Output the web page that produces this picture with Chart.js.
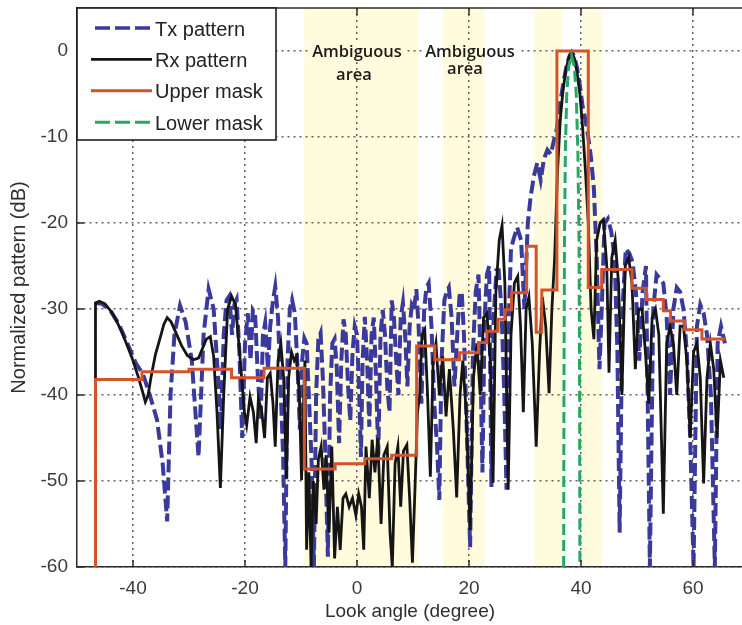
<!DOCTYPE html>
<html>
<head>
<meta charset="utf-8">
<script src="https://cdn.jsdelivr.net/npm/chart.js@4.4.0/dist/chart.umd.min.js"></script>
<style>
  html, body { margin: 0; padding: 0; background: #fff; overflow: hidden; }
  #wrap { width: 742px; height: 625px; overflow: hidden; }
</style>
</head>
<body>
<div id="wrap"><canvas id="chart" width="749" height="625"></canvas></div>
<script>
// --- axis ticks ---
const xTicks = [-40, -20, 0, 20, 40, 60];
const yTicks = [-60, -50, -40, -30, -20, -10, 0];

// --- shaded "ambiguous" look-angle bands (degree) ---
const ambigStart = [-9.4, 15.4, 31.7, 40.2];
const ambigEnd = [10.9, 22.8, 36.6, 43.7];

// --- Tx pattern (dB) ---
const txX = [
  -46.7, -45.5, -44.0, -42.5, -41.0, -39.5, -38.2, -37.0, -35.7, -34.7,
  -33.9, -33.3, -32.6, -31.6, -30.6, -29.5, -28.3, -27.4, -26.5, -25.6,
  -24.8, -24.3, -23.8, -23.3, -22.8, -22.3, -21.9, -21.5, -21.0, -20.5,
  -20.0, -19.5, -19.0, -18.6, -18.2, -17.7, -17.2, -16.8, -16.4, -15.9,
  -15.5, -15.0, -14.6, -14.1, -13.6, -13.2, -12.8, -12.4, -12.0, -11.6,
  -11.1, -10.6, -10.2, -9.8, -9.4, -9.0, -8.6, -8.1, -7.7, -7.3,
  -6.9, -6.5, -6.1, -5.7, -5.2, -4.8, -4.4, -4.0, -3.6, -3.2,
  -2.8, -2.4, -2.0, -1.6, -1.2, -0.8, -0.4, 0.0, 0.4, 0.7,
  1.0, 1.4, 1.8, 2.2, 2.6, 3.0, 3.4, 3.8, 4.2, 4.6,
  5.0, 5.4, 5.8, 6.2, 6.6, 7.0, 7.4, 7.8, 8.2, 8.6,
  9.0, 9.4, 9.8, 10.2, 10.6, 11.0, 11.5, 12.0, 12.4, 12.8,
  13.3, 13.8, 14.3, 14.7, 15.1, 15.6, 16.0, 16.4, 16.9, 17.4,
  17.9, 18.3, 18.7, 19.1, 19.6, 20.2, 20.7, 21.2, 21.7, 22.0,
  22.4, 22.8, 23.2, 23.6, 24.0, 24.4, 24.9, 25.3, 25.8, 26.3,
  26.7, 27.1, 27.5, 27.9, 28.6, 29.3, 29.9, 30.5, 31.0, 31.6,
  32.2, 32.8, 33.4, 34.0, 34.6, 35.2, 35.7, 36.3, 36.9, 37.5,
  38.0, 38.4, 38.8, 39.3, 39.8, 40.3, 40.8, 41.3, 41.8, 42.3,
  42.8, 43.3, 43.7, 44.2, 44.8, 45.4, 46.0, 46.5, 46.9, 47.4,
  48.0, 48.6, 49.2, 49.8, 50.4, 51.0, 51.6, 52.3, 52.9, 53.5,
  54.1, 54.7, 55.3, 55.9, 56.5, 57.1, 57.7, 58.3, 58.9, 59.5,
  60.1, 60.7, 61.3, 61.9, 62.5, 63.2, 63.9, 64.4, 65.0, 65.7
];
const txY = [
  -29.3, -29.4, -30.2, -31.8, -34.0, -36.3, -37.6, -40.0, -42.9, -48.0,
  -54.7, -40.0, -33.0, -29.6, -31.5, -36.0, -47.2, -33.0, -27.7, -30.0,
  -38.0, -44.0, -33.0, -29.0, -28.5, -33.0, -29.5, -28.9, -35.0, -45.0,
  -34.0, -30.5, -36.0, -30.1, -30.5, -38.0, -43.0, -33.0, -31.6, -37.0,
  -32.0, -29.0, -27.4, -31.0, -40.0, -47.0, -60.0, -36.0, -30.0, -28.9,
  -30.5, -37.0, -44.0, -36.0, -33.4, -34.0, -40.0, -48.0, -60.0, -40.0,
  -33.5, -32.8, -38.0, -46.0, -58.8, -40.0, -34.0, -33.5, -37.0, -45.6,
  -36.0, -31.2, -33.0, -39.0, -43.0, -35.0, -32.0, -33.0, -40.0, -47.2,
  -36.0, -30.9, -36.0, -43.7, -33.0, -31.0, -38.0, -47.0, -33.0, -30.1,
  -33.0, -39.0, -42.0, -29.0, -31.0, -36.0, -40.0, -31.0, -29.3, -33.0,
  -39.0, -32.0, -29.5, -30.0, -27.7, -32.0, -41.0, -30.0, -27.5, -27.0,
  -32.0, -41.0, -46.0, -52.2, -36.0, -29.0, -28.0, -27.5, -31.0, -39.0,
  -33.0, -28.5, -28.0, -33.0, -44.0, -57.7, -35.0, -28.0, -26.0, -35.0,
  -49.0, -31.0, -26.0, -25.0, -50.7, -31.0, -25.5, -25.5, -30.0, -40.0,
  -51.0, -31.0, -23.0, -22.0, -20.5, -22.0, -30.0, -20.0, -17.0, -14.5,
  -13.0, -15.0, -12.5, -11.5, -12.0, -10.3, -9.0, -6.0, -3.5, -1.5,
  -0.5, -0.2, -0.6, -2.0, -4.0, -6.5, -8.0, -10.0, -12.5, -16.0,
  -24.0, -37.0, -30.0, -20.0, -19.5, -21.0, -24.0, -35.0, -56.0, -30.0,
  -23.0, -23.5, -24.5, -28.0, -36.0, -28.0, -25.0, -60.0, -30.0, -26.0,
  -26.5, -27.0, -31.0, -40.0, -30.0, -27.5, -28.0, -30.0, -35.0, -45.0,
  -60.0, -32.0, -29.5, -30.5, -33.0, -40.0, -60.0, -34.0, -32.0, -34.0
];

// --- Rx pattern (dB) ---
const rxX = [
  -46.7, -46.7, -46.0, -45.0, -44.0, -43.0, -42.0, -41.0, -40.0, -39.0,
  -38.3, -37.8, -37.3, -36.8, -36.0, -35.0, -34.5, -33.9, -33.2, -32.3,
  -31.3, -30.3, -29.2, -28.3, -27.6, -26.9, -26.2, -25.6, -25.0, -24.4,
  -23.8, -23.1, -22.4, -21.7, -21.1, -20.6, -20.1, -19.7, -19.1, -18.5,
  -18.0, -17.6, -17.0, -16.5, -16.0, -15.5, -15.0, -14.6, -14.1, -13.6,
  -13.1, -12.6, -12.2, -11.7, -11.2, -10.8, -10.3, -9.9, -9.6, -9.3,
  -9.0, -8.6, -8.2, -7.8, -7.3, -6.9, -6.4, -5.9, -5.5, -5.0,
  -4.5, -4.0, -3.5, -3.0, -2.5, -2.0, -1.4, -0.8, -0.2, 0.3,
  0.8, 1.2, 1.6, 2.2, 2.7, 3.2, 3.7, 4.3, 4.8, 5.4,
  5.9, 6.3, 6.8, 7.3, 7.8, 8.3, 8.9, 9.4, 9.9, 10.4,
  10.8, 11.2, 11.6, 12.1, 12.6, 13.1, 13.6, 14.1, 14.7, 15.3,
  15.9, 16.5, 17.2, 17.8, 18.4, 18.9, 19.5, 20.2, 20.8, 21.4,
  22.0, 22.6, 23.2, 23.8, 24.3, 24.8, 25.4, 25.9, 26.4, 27.0,
  27.5, 28.1, 28.7, 29.2, 29.7, 30.2, 30.7, 31.3, 32.0, 32.6,
  33.1, 33.7, 34.3, 34.8, 35.3, 35.8, 36.3, 36.8, 37.3, 37.8,
  38.3, 38.8, 39.3, 39.8, 40.3, 40.8, 41.3, 41.8, 42.3, 42.8,
  43.4, 44.0, 44.6, 45.0, 45.5, 46.1, 46.7, 47.3, 47.9, 48.5,
  49.1, 49.7, 50.3, 50.9, 51.5, 52.1, 52.7, 53.3, 53.9, 54.7,
  55.3, 55.9, 56.5, 57.1, 57.7, 58.3, 58.9, 59.5, 60.1, 60.7,
  61.3, 61.9, 62.5, 63.1, 63.7, 64.3, 64.9, 65.5
];
const rxY = [
  -60.0, -29.3, -29.1, -29.4, -30.2, -31.3, -32.7, -34.3, -36.0, -38.0,
  -39.6, -40.8, -40.0, -38.0, -35.3, -33.0, -31.8, -31.0, -31.5, -32.8,
  -34.3, -35.4, -35.9, -35.7, -34.6, -33.5, -33.2, -35.5, -42.0, -50.8,
  -40.0, -30.0, -28.5, -29.5, -34.0, -38.0, -42.0, -43.5, -40.2, -42.0,
  -45.6, -40.4, -42.0, -45.0, -38.0, -37.5, -41.0, -46.0, -36.0, -34.0,
  -38.0, -49.7, -38.0, -35.0, -36.0, -35.5, -40.0, -49.9, -42.0, -36.0,
  -58.0, -49.0, -60.0, -50.0, -55.0, -47.5, -46.0, -51.0, -47.0, -56.0,
  -46.0, -59.0, -53.0, -58.0, -52.0, -51.5, -53.0, -52.0, -54.0, -51.5,
  -53.0, -58.0, -46.0, -52.0, -45.2, -49.0, -45.0, -55.0, -47.0, -46.0,
  -56.0, -60.0, -48.0, -46.0, -53.0, -46.5, -45.8, -52.0, -59.5, -50.0,
  -42.0, -40.0, -33.0, -32.4, -40.0, -49.5, -36.0, -34.0, -40.0, -35.5,
  -42.5, -37.0, -44.0, -51.9, -40.0, -36.0, -42.0, -55.7, -38.0, -34.0,
  -40.0, -31.0, -30.5, -36.0, -50.2, -28.0, -22.0, -20.3, -27.0, -51.0,
  -33.0, -27.0, -26.2, -32.0, -42.0, -30.0, -28.6, -34.0, -46.0, -35.0,
  -28.6, -32.0, -39.8, -30.0, -24.0, -14.0, -8.0, -4.5, -2.2, -0.8,
  -0.1, -0.8, -2.5, -5.0, -9.0, -14.0, -20.0, -30.0, -33.5, -22.0,
  -20.0, -19.6, -25.0, -37.4, -24.0, -22.0, -27.0, -40.0, -25.0, -24.0,
  -27.0, -37.0, -30.0, -30.0, -35.0, -41.0, -31.0, -30.0, -33.0, -53.8,
  -34.0, -32.0, -34.0, -40.0, -32.0, -32.0, -36.0, -45.0, -35.0, -34.0,
  -38.0, -50.3, -38.0, -34.0, -37.0, -45.0, -36.0, -38.0
];

// --- upper mask: step edges and the level that starts at each edge ---
const umX = [-46.7, -46.7, -38.4, -30, -22.4, -16.6, -9.4, -3.9, 1.4, 6.2,
  10.65, 13.9, 18.3, 21.7, 23.2, 25.2, 26.4, 27.6, 30.3, 32,
  33, 35.7, 41.3, 43.7, 49.1, 51.7, 54.7, 56, 58.5, 61.6, 65.7];
const umY = [-60, -38.2, -37.3, -37.0, -38.0, -36.9, -48.6, -48.0, -47.4, -47.0,
  -34.3, -35.9, -35.1, -33.9, -32.6, -31.2, -30.1, -28.1, -22.7, -32.7,
  -27.8, 0, -27.5, -25.4, -27.6, -28.9, -30.2, -31.4, -32.4, -33.5, -33.5];

// --- lower mask ---
const lmX = [36.9, 36.95, 37.05, 37.2, 37.45, 37.8, 38.3, 38.8, 39.15, 39.45, 39.65, 39.75, 39.8];
const lmY = [-60, -40, -22, -12, -5, -1.8, -0.5, -1.8, -5, -12, -22, -40, -60];

const FONT = "'Liberation Sans', Arial, sans-serif";
const BAND = '#fffbdc';
const pairs = (xs, ys) => xs.map((v, i) => ({ x: v, y: ys[i] }));

// yellow bands go under the grid
const backdrop = {
  id: 'backdrop',
  beforeDraw(chart) {
    const { ctx, chartArea: a, scales: { x } } = chart;
    ctx.save();
    ctx.fillStyle = BAND;
    ambigStart.forEach((s, i) => {
      const l = x.getPixelForValue(s);
      const r = x.getPixelForValue(ambigEnd[i]);
      ctx.fillRect(l, a.top, r - l, a.bottom - a.top);
    });
    ctx.restore();
  }
};

// box edge, inward ticks, legend, notes and axis titles
const overlay = {
  id: 'overlay',
  afterDraw(chart) {
    const { ctx, chartArea: a, scales: { x, y } } = chart;
    ctx.save();
    ctx.strokeStyle = '#2b2b2b';
    ctx.lineWidth = 1.5;
    ctx.beginPath();
    ctx.moveTo(a.left, a.top);
    ctx.lineTo(a.right, a.top);
    xTicks.forEach(v => {
      const px = x.getPixelForValue(v);
      ctx.moveTo(px, a.bottom); ctx.lineTo(px, a.bottom - 7);
      ctx.moveTo(px, a.top); ctx.lineTo(px, a.top + 7);
    });
    yTicks.forEach(v => {
      const py = y.getPixelForValue(v);
      ctx.moveTo(a.left, py); ctx.lineTo(a.left + 7, py);
    });
    ctx.stroke();

    // hide the grid behind a text row but keep the band colour
    const clearBehind = (l, r, top, h) => {
      ctx.fillStyle = '#fff';
      ctx.fillRect(l, top, r - l, h);
      ctx.fillStyle = BAND;
      ambigStart.forEach((s, i) => {
        const bl = Math.max(l, x.getPixelForValue(s));
        const br = Math.min(r, x.getPixelForValue(ambigEnd[i]));
        if (br > bl) ctx.fillRect(bl, top, br - bl, h);
      });
    };

    // notes over the bands
    const notes = [
      { cx: 357, rows: [['Ambiguous', 57], ['area', 80]], shift: -3 },
      { cx: 470, rows: [['Ambiguous', 57], ['area', 74]], shift: -5 }
    ];
    ctx.font = "600 16.5px 'Open Sans', sans-serif";
    ctx.textAlign = 'center';
    ctx.textBaseline = 'alphabetic';
    notes.forEach(n => {
      n.rows.forEach(([t, base], k) => {
        const cx = n.cx + (k ? n.shift : 0);
        const w = ctx.measureText(t).width;
        if (k === 0) clearBehind(cx - w / 2 - 3, cx + w / 2 + 3, base - 14, 18);
        ctx.fillStyle = '#1a1a1a';
        ctx.fillText(t, cx, base);
      });
    });

    // legend box
    const lx = a.left, ly = a.top, lw = 199, lh = 132;
    ctx.fillStyle = '#fff';
    ctx.fillRect(lx, ly, lw, lh);
    ctx.strokeStyle = '#1e1e1e';
    ctx.lineWidth = 1.6;
    ctx.strokeRect(lx, ly, lw, lh);
    ctx.font = '20px ' + FONT;
    ctx.textAlign = 'left';
    ctx.textBaseline = 'middle';
    chart.data.datasets.forEach((ds, i) => {
      const ry = ly + 20 + i * 31.4;
      ctx.save();
      ctx.strokeStyle = ds.borderColor;
      ctx.lineWidth = Math.min(ds.borderWidth, 3.5);
      const dashed = ds.borderDash && ds.borderDash.length;
      ctx.setLineDash(dashed ? [15, 5] : []);
      ctx.beginPath();
      ctx.moveTo(dashed ? 95 : 91, ry);
      ctx.lineTo(152, ry);
      ctx.stroke();
      ctx.restore();
      ctx.fillStyle = '#222';
      ctx.fillText(ds.label, 155, ry + 2);
    });

    // axis titles
    ctx.fillStyle = '#2e2e2e';
    ctx.font = '19px ' + FONT;
    ctx.textAlign = 'center';
    ctx.textBaseline = 'middle';
    ctx.fillText('Look angle (degree)', (a.left + a.right) / 2 - 3, 612);
    ctx.font = '20px ' + FONT;
    ctx.translate(19, (a.top + a.bottom) / 2);
    ctx.rotate(-Math.PI / 2);
    ctx.fillText('Normalized pattern (dB)', 0, 0);
    ctx.restore();
  }
};

// keep the plot box where the reference has it: no extra label padding
const noPad = s => { s.paddingTop = 0; s.paddingBottom = 0; s.paddingLeft = 0; s.paddingRight = 0; };

new Chart(document.getElementById('chart'), {
  type: 'scatter',
  data: {
    datasets: [
      { label: 'Tx pattern', data: pairs(txX, txY), showLine: true, borderColor: '#3a3a9c',
        borderWidth: 4, borderDash: [13, 5], order: 4 },
      { label: 'Rx pattern', data: pairs(rxX, rxY), showLine: true, borderColor: '#151515',
        borderWidth: 2.8, order: 3 },
      { label: 'Upper mask', data: pairs(umX, umY), showLine: true, borderColor: '#d3532c',
        borderWidth: 3, stepped: 'before', order: 2 },
      { label: 'Lower mask', data: pairs(lmX, lmY), showLine: true, borderColor: '#25a862',
        borderWidth: 3, borderDash: [11, 5], order: 1 }
    ]
  },
  options: {
    responsive: false,
    animation: false,
    elements: { point: { radius: 0 }, line: { tension: 0, fill: false } },
    layout: { padding: { top: 8, left: 0, right: 0, bottom: 0 } },
    plugins: { legend: { display: false }, tooltip: { enabled: false } },
    scales: {
      x: {
        type: 'linear', min: -50, max: 70,
        afterBuildTicks: s => { s.ticks = xTicks.map(v => ({ value: v })); },
        afterFit: s => { s.height = 58; noPad(s); },
        grid: { color: 'rgba(70,70,70,0.85)', lineWidth: 1.5, drawTicks: false },
        border: { display: true, color: '#2b2b2b', width: 1.5, dash: [2, 4] },
        ticks: { autoSkip: false, maxRotation: 0, padding: 10, color: '#3a3a3a',
          font: { family: FONT, size: 19 } }
      },
      y: {
        type: 'linear', min: -60, max: 5,
        afterBuildTicks: s => { s.ticks = yTicks.map(v => ({ value: v })); },
        afterFit: s => { s.width = 77; noPad(s); },
        grid: { color: 'rgba(70,70,70,0.85)', lineWidth: 1.5, drawTicks: false },
        border: { display: true, color: '#2b2b2b', width: 1.5, dash: [2, 4] },
        ticks: { autoSkip: false, padding: 9, color: '#3a3a3a',
          font: { family: FONT, size: 19 } }
      }
    }
  },
  plugins: [backdrop, overlay]
});
</script>
</body>
</html>
